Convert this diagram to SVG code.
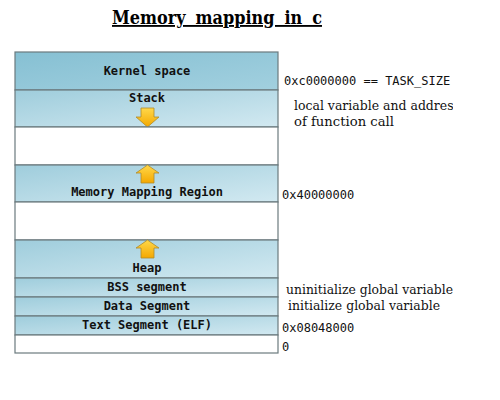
<svg xmlns="http://www.w3.org/2000/svg" width="500" height="400" viewBox="0 0 500 400">
<defs>
<linearGradient id="gK" x1="0" y1="0" x2="1" y2="1">
<stop offset="0" stop-color="#86c0d3"/><stop offset="1" stop-color="#a2d0df"/>
</linearGradient>
<linearGradient id="gS" x1="0" y1="0" x2="1" y2="1">
<stop offset="0" stop-color="#9fcddc"/><stop offset="1" stop-color="#d2e9f1"/>
</linearGradient>
<linearGradient id="gA" x1="0" y1="0" x2="0" y2="1">
<stop offset="0" stop-color="#ffd84a"/><stop offset="1" stop-color="#f4a800"/>
</linearGradient>
<clipPath id="clipR"><rect x="280" y="0" width="173" height="400"/></clipPath>
</defs>
<style>
.seg{stroke:#6b7a7e;stroke-width:1.2}
.lbl{font-family:"DejaVu Sans Mono",monospace;font-size:12px;font-weight:bold;fill:#111;text-anchor:middle}
.addr{font-family:"DejaVu Sans Mono",monospace;font-size:12px;fill:#111}
.note{font-family:"DejaVu Serif",serif;font-size:13.5px;fill:#111}
.arr{fill:url(#gA);stroke:#b08a2a;stroke-width:0.8}
</style>
<text x="112" y="24" font-family="DejaVu Serif,serif" font-size="18.5" font-weight="bold" text-decoration="underline" textLength="210" lengthAdjust="spacingAndGlyphs" word-spacing="5">Memory mapping in c</text>
<g id="kernel"><rect class="seg" x="15" y="52" width="263" height="38" fill="url(#gK)"/><text class="lbl" x="147" y="75">Kernel space</text></g>
<g id="stack"><rect class="seg" x="15" y="90" width="263" height="37" fill="url(#gS)"/><text class="lbl" x="147" y="102">Stack</text>
<path class="arr" d="M141,108 H154 V117 H159 L147.5,127 L136,117 H141 Z"/></g>
<g id="free1"><rect class="seg" x="15" y="127" width="263" height="38" fill="#fff"/></g>
<g id="mmr"><rect class="seg" x="15" y="165" width="263" height="37" fill="url(#gS)"/><text class="lbl" x="147" y="196">Memory Mapping Region</text>
<path class="arr" d="M147.5,165 L159,173 H154 V183 H141 V173 H136 Z"/></g>
<g id="free2"><rect class="seg" x="15" y="202" width="263" height="38" fill="#fff"/></g>
<g id="heap"><rect class="seg" x="15" y="240" width="263" height="38" fill="url(#gS)"/><text class="lbl" x="147" y="272">Heap</text>
<path class="arr" d="M147.5,240 L159,248 H154 V258 H141 V248 H136 Z"/></g>
<g id="bss"><rect class="seg" x="15" y="278" width="263" height="19" fill="url(#gS)"/><text class="lbl" x="147" y="291">BSS segment</text></g>
<g id="data"><rect class="seg" x="15" y="297" width="263" height="19" fill="url(#gS)"/><text class="lbl" x="147" y="310">Data Segment</text></g>
<g id="text"><rect class="seg" x="15" y="316" width="263" height="19" fill="url(#gS)"/><text class="lbl" x="147" y="329">Text Segment (ELF)</text></g>
<g id="bottom"><rect class="seg" x="15" y="335" width="263" height="18" fill="#fff"/></g>
<g id="labels">
<text class="addr" x="284" y="85">0xc0000000 == TASK_SIZE</text>
<g clip-path="url(#clipR)"><text class="note" x="294" y="110" textLength="166" lengthAdjust="spacingAndGlyphs">local variable and address</text></g>
<text class="note" x="294" y="126" textLength="100" lengthAdjust="spacingAndGlyphs">of function call</text>
<text class="addr" x="282" y="199">0x40000000</text>
<text class="note" x="286" y="294" textLength="167" lengthAdjust="spacingAndGlyphs">uninitialize global variable</text>
<text class="note" x="288" y="310" textLength="152" lengthAdjust="spacingAndGlyphs">initialize global variable</text>
<text class="addr" x="282" y="332">0x08048000</text>
<text class="addr" x="282" y="351">0</text>
</g>
</svg>
